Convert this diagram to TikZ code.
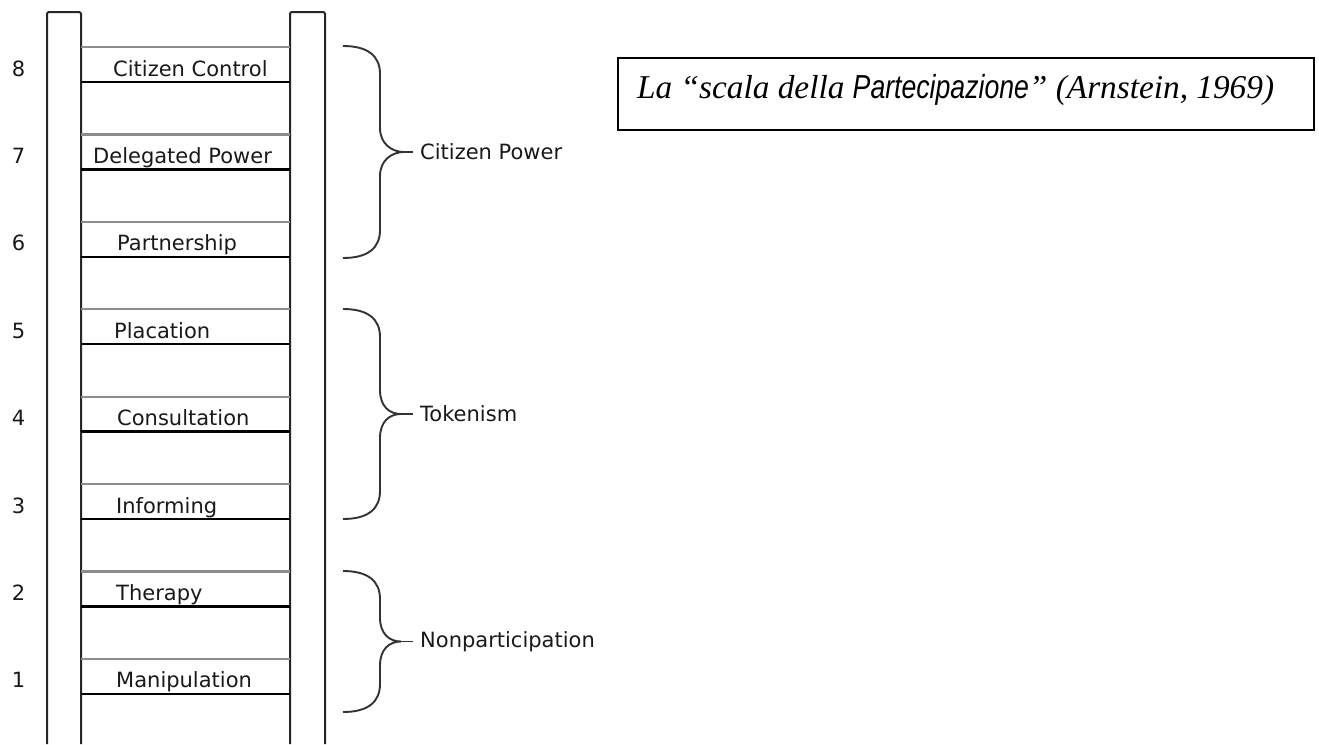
\documentclass[tikz,border=0pt]{standalone}
\usepackage{fontspec}
\setmainfont{DejaVu Sans}
\newfontfamily\titleserif{Liberation Serif}
\newfontfamily\titlesans[FakeStretch=0.8]{Liberation Sans}
\newcommand\grpbrace[5]{% name, top, bottom, tipx, label
  \pgfmathsetmacro\bmid{(#2+#3)/2}
  \draw[brace] (343,#2) .. controls (368,#2) and (380,{#2+10}) .. (380,{#2+28})
     -- (380,{\bmid-24}) .. controls (380,{\bmid-8}) and ({#4-12},\bmid) .. (#4,\bmid)
     .. controls ({#4-12},\bmid) and (380,{\bmid+8}) .. (380,{\bmid+24})
     -- (380,{#3-28}) .. controls (380,{#3-10}) and (368,#3) .. (343,#3);
  \coordinate (#1tip) at (#4,\bmid);
  \coordinate (#1tick) at (413,\bmid);
  \draw[brace] (#1tip) -- (#1tick);
  \node[grp] (#1) at (420,\bmid) {#5};
}
\begin{document}
\begin{tikzpicture}[x=1pt,y=-1pt,
  rail/.style={line width=2pt, draw=black!85, rounded corners=1.5pt},
  rungtop/.style={line width=2.2pt, draw=black!45},
  rungbot/.style={line width=2.3pt, draw=black},
  lbl/.style={anchor=base west, inner sep=0pt, font=\fontsize{21}{24}\selectfont, text=black!90},
  num/.style={anchor=base, inner sep=0pt, font=\fontsize{21}{24}\selectfont, text=black!90},
  brace/.style={line width=1.9pt, draw=black!80},
  grp/.style={anchor=west, inner sep=0pt, font=\fontsize{21}{24}\selectfont, text=black!90},
  titlebox/.style={draw=black, line width=1.6pt, anchor=north west, inner sep=0pt, minimum width=696pt, minimum height=72pt}]
\useasboundingbox (0,0) rectangle (1319,744);
% rails
\draw[rail] (47,744) -- (47,12) -- (81,12) -- (81,744);
\draw[rail] (290,744) -- (290,12) -- (325,12) -- (325,744);
% rungs
\foreach \k/\t/\x in {8/Citizen Control/113, 7/Delegated Power/93, 6/Partnership/117,
  5/Placation/114, 4/Consultation/117, 3/Informing/116, 2/Therapy/116, 1/Manipulation/116}{
  \pgfmathsetmacro\yg{47+(8-\k)*87.4}
  \pgfmathsetmacro\yb{\yg+35}
  \coordinate (tl\k) at (81,\yg);
  \coordinate (tr\k) at (290,\yg);
  \coordinate (bl\k) at (81,\yb);
  \coordinate (br\k) at (290,\yb);
  \draw[rungtop] (tl\k) -- (tr\k);
  \draw[rungbot] (bl\k) -- (br\k);
  \node[lbl] (lbl\k) at (\x,{\yb-6}) {\t};
  \node[num] (num\k) at (18.5,{\yb-6}) {\k};
}
% braces
\grpbrace{power}{46}{258}{404}{Citizen Power}
\grpbrace{token}{309}{519}{401}{Tokenism}
\grpbrace{nonpart}{571}{712}{401}{Nonparticipation}
% title
\node[titlebox] (title) at (617,57) {};
\node[anchor=base west, inner sep=0pt] (titletext) at (637,98)
  {\fontsize{33.3}{36}\selectfont\titleserif\itshape La “scala della {\titlesans\itshape Partecipazione}” (Arnstein, 1969)};
\end{tikzpicture}
\end{document}
